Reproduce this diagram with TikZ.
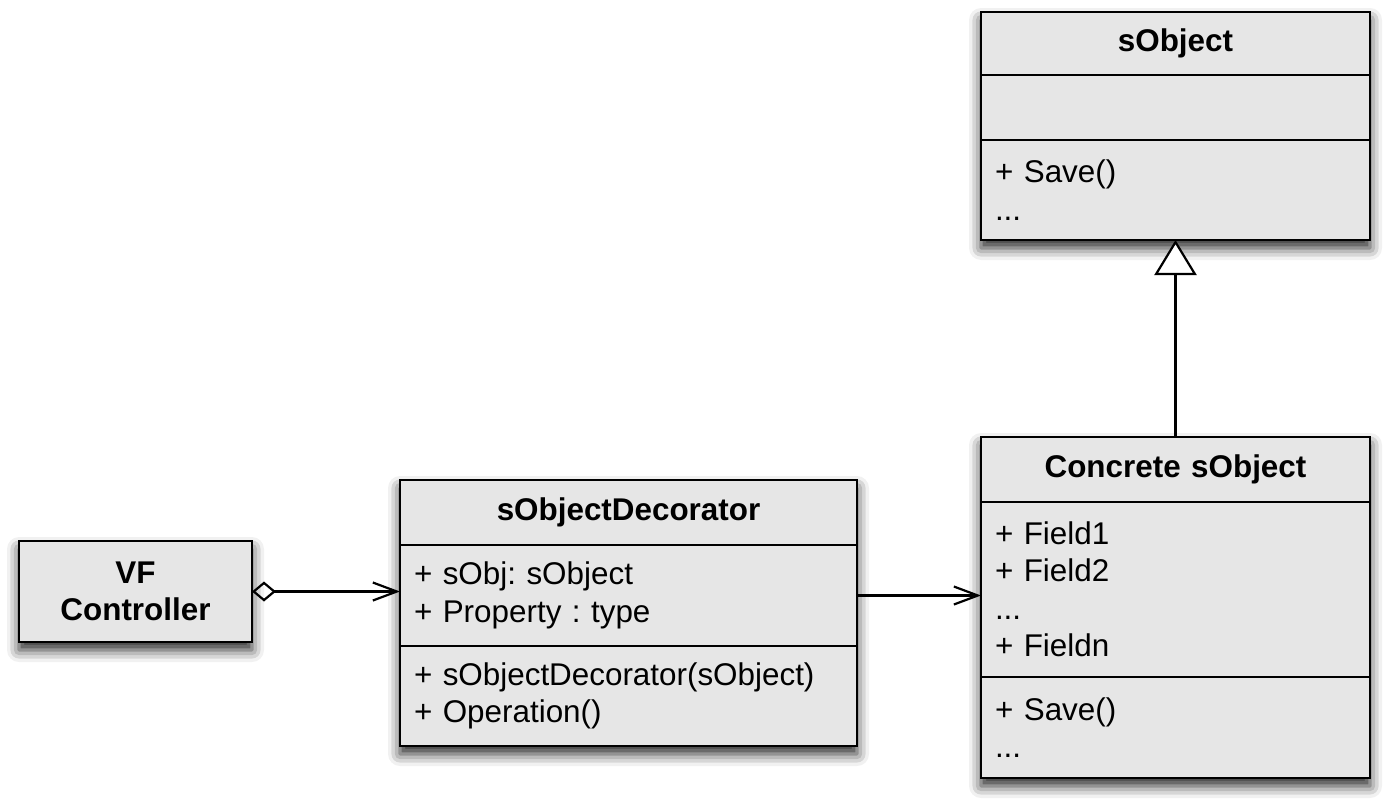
\documentclass[tikz,border=0pt]{standalone}
\usepackage{fontspec}
\setmainfont{Liberation Sans}
\frenchspacing
\usetikzlibrary{arrows.meta, positioning, fit, backgrounds, shadows.blur}
\definecolor{classgray}{RGB}{230,230,230}

\begin{document}
\begin{tikzpicture}[
  x=0.5pt, y=-0.5pt, node distance=0pt,
  font=\fontsize{15.7}{18.75}\selectfont,
  every node/.style={outer sep=0pt},
  part/.style={draw, line width=1.3pt, fill=classgray, inner xsep=7pt, inner ysep=0pt},
  head/.style={part, font=\fontsize{15.7}{18.75}\selectfont\bfseries, align=center},
  body/.style={part, align=left},
  shade/.style={fill=classgray, inner sep=0pt,
    blur shadow={shadow xshift=0pt, shadow yshift=-4pt, shadow blur radius=6pt, shadow opacity=85}},
  link/.style={line width=1.1pt},
  ]
  \useasboundingbox (0,0) rectangle (1392,808);

  % base class
  \node[head, text width=180.5pt, minimum height=31.5pt, anchor=north west] (obj_head) at (981,12) {sObject};
  \node[body, text width=180.5pt, minimum height=32.5pt, below=of obj_head] (obj_attr) {};
  \node[body, text width=180.5pt, minimum height=50pt, below=of obj_attr]   (obj_ops)  {+ Save()\\...};

  % concrete class
  \node[head, text width=180.5pt, minimum height=32.5pt, anchor=north west] (conc_head) at (981,437) {Concrete sObject};
  \node[body, text width=180.5pt, minimum height=87.5pt, below=of conc_head] (conc_attr) {+ Field1\\+ Field2\\...\\+ Fieldn};
  \node[body, text width=180.5pt, minimum height=50.5pt, below=of conc_attr] (conc_ops)  {+ Save()\\...};

  % decorator
  \node[head, text width=214.5pt, minimum height=32.5pt, anchor=north west] (dec_head) at (400,480) {sObjectDecorator};
  \node[body, text width=214.5pt, minimum height=50.5pt, below=of dec_head] (dec_attr) {+ sObj: sObject\\+ Property : type};
  \node[body, text width=214.5pt, minimum height=50pt, below=of dec_attr]   (dec_ops)  {+ sObjectDecorator(sObject)\\+ Operation()};

  % controller
  \node[head, text width=102.5pt, minimum height=50.5pt, anchor=north west] (vf) at (19,541) {VF\\Controller};

  \begin{scope}[on background layer]
    \node[shade, fit=(obj_head)(obj_ops)]   (obj_box)  {};
    \node[shade, fit=(conc_head)(conc_ops)] (conc_box) {};
    \node[shade, fit=(dec_head)(dec_ops)]   (dec_box)  {};
    \node[shade, fit=(vf)]                  (vf_box)   {};
  \end{scope}

  \path[link] (vf.east) edge[{Diamond[open, length=12pt, width=10pt]}-{Straight Barb[length=12pt, width=9pt]}] (vf.east -| dec_attr.west)
              (dec_attr.east) edge[-{Straight Barb[length=12pt, width=9pt]}] (dec_attr.east -| conc_attr.west)
              (conc_head.north) edge[-{Triangle[open, fill=white, length=17.5pt, width=21pt]}] (obj_ops.south);
\end{tikzpicture}
\end{document}
